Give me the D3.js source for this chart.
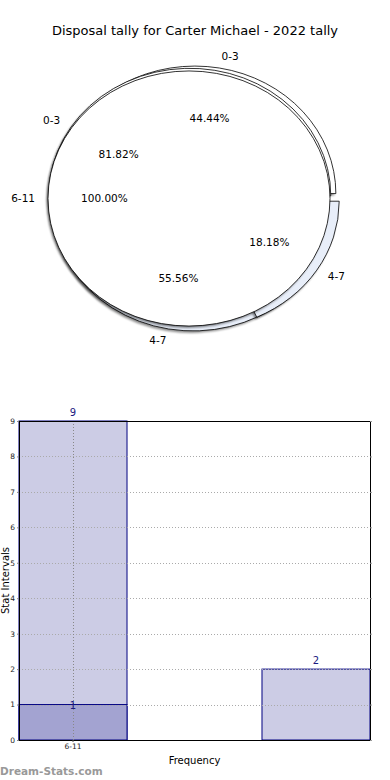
<!DOCTYPE html>
<html>
<head>
<meta charset="utf-8">
<script src="https://cdn.jsdelivr.net/npm/d3@7/dist/d3.min.js"></script>
<style>
  html, body { margin: 0; padding: 0; background: #fff; }
  svg { display: block; font-family: "DejaVu Sans", sans-serif; }
</style>
</head>
<body>
<div id="chart"></div>
<script>
// chart title
const chartTitle = "Disposal tally for Carter Michael - 2022 tally";

// pie rings (drawn back to front)
const pie1Labels = ["0-3", "4-7"];
const pie1Values = [4, 5];
const pie2Labels = ["0-3", "4-7"];
const pie2Values = [9, 2];
const pie3Labels = ["6-11"];
const pie3Values = [9];

// bar chart
const barCategories = ["6-11", "", ""];
const barValues = [9, 0, 2];
const barInnerValues = [1, 0, 0];
const yTicks = [0, 1, 2, 3, 4, 5, 6, 7, 8, 9];
const xTitle = "Frequency";
const yTitle = "Stat Intervals";
const watermark = "Dream-Stats.com";

const W = 390, H = 780;
const svg = d3.select("#chart").append("svg")
    .attr("width", W)
    .attr("height", H);

const defs = svg.append("defs");
defs.append("filter").attr("id", "blur")
    .attr("x", "-10%").attr("y", "-10%").attr("width", "120%").attr("height", "120%")
  .append("feGaussianBlur").attr("stdDeviation", 0.9);

svg.append("text")
    .attr("x", W / 2)
    .attr("y", 34.5)
    .attr("text-anchor", "middle")
    .attr("font-size", 13)
    .attr("fill", "#000")
    .text(chartTitle);

// ---------- pie ----------
const cx = 194, cy = 198.5;
const rx = 141, ry = 127.5;
const yScaleK = ry / rx;
const explode = 5;
const sliceColor = {"0-3": "#ffffff", "4-7": "#e8eef9", "6-11": "#ffffff"};

const pie = d3.pie().sort(null)
    .startAngle(Math.PI / 2)
    .endAngle(Math.PI / 2 - 2 * Math.PI);
const arc = d3.arc().innerRadius(0).outerRadius(rx);

const pieG = svg.append("g");
const labelG = svg.append("g");

function drawPie(values, labels) {
  const total = d3.sum(values);
  const arcs = pie(values).map((d, i) => {
    const mid = (d.startAngle + d.endAngle) / 2;
    return Object.assign(d, {
      label: labels[i],
      mid: mid,
      ox: Math.sin(mid) * explode,
      oy: -Math.cos(mid) * explode,
      pct: (d.value / total * 100).toFixed(2) + "%"
    });
  });

  // shadows
  arcs.forEach(d => {
    pieG.append("g")
        .attr("transform", `translate(${cx + d.ox - 1.5},${cy + d.oy + 2})`)
      .append("path")
        .attr("transform", `scale(1,${yScaleK})`)
        .attr("d", arc(d))
        .attr("fill", "#000")
        .attr("opacity", 0.45)
        .attr("filter", "url(#blur)");
  });

  arcs.forEach(d => {
    pieG.append("g")
        .attr("transform", `translate(${cx + d.ox},${cy + d.oy}) scale(1,${yScaleK})`)
      .append("path")
        .attr("d", arc(d))
        .attr("fill", sliceColor[d.label])
        .attr("stroke", "#000")
        .attr("stroke-width", 0.8)
        .attr("vector-effect", "non-scaling-stroke");

    const s = Math.sin(d.mid), c = -Math.cos(d.mid);
    labelG.append("text")
        .attr("x", cx + d.ox + s * rx * 0.6)
        .attr("y", cy + d.oy + c * ry * 0.6)
        .attr("dy", "0.35em")
        .attr("text-anchor", "middle")
        .attr("font-size", 10.5)
        .text(d.pct);

    labelG.append("text")
        .attr("x", cx + d.ox + s * (rx + 13))
        .attr("y", cy + d.oy + c * (ry + 12))
        .attr("dy", "0.35em")
        .attr("text-anchor", s > 0.05 ? "start" : (s < -0.05 ? "end" : "middle"))
        .attr("font-size", 10.5)
        .text(d.label);
  });
}

drawPie(pie1Values, pie1Labels);
drawPie(pie2Values, pie2Labels);
drawPie(pie3Values, pie3Labels);

// ---------- bars ----------
const plot = {left: 19, right: 370, top: 421, bottom: 740};

const x = d3.scaleBand()
    .domain(d3.range(barCategories.length))
    .range([plot.left, plot.right])
    .paddingInner(0.111)
    .paddingOuter(0);

const y = d3.scaleLinear()
    .domain([0, 9])
    .range([plot.bottom, plot.top]);

const barG = svg.append("g");

barG.selectAll("rect.outer")
  .data(barValues.map((v, i) => ({v, i})).filter(d => d.v > 0))
  .enter().append("rect")
    .attr("class", "outer")
    .attr("x", d => x(d.i))
    .attr("y", d => y(d.v))
    .attr("width", x.bandwidth())
    .attr("height", d => y(0) - y(d.v))
    .attr("fill", "#ccccE5")
    .attr("stroke", "#000080")
    .attr("stroke-width", 1);

barG.selectAll("rect.inner")
  .data(barInnerValues.map((v, i) => ({v, i})).filter(d => d.v > 0))
  .enter().append("rect")
    .attr("class", "inner")
    .attr("x", d => x(d.i))
    .attr("y", d => y(d.v))
    .attr("width", x.bandwidth())
    .attr("height", d => y(0) - y(d.v))
    .attr("fill", "#a3a3d1")
    .attr("stroke", "#000080")
    .attr("stroke-width", 1);

// grid lines
const gridG = svg.append("g");
gridG.selectAll("line.h")
  .data(yTicks.filter(t => t > 0 && t < 9))
  .enter().append("line")
    .attr("x1", plot.left)
    .attr("x2", plot.right)
    .attr("y1", d => Math.round(y(d)) + 0.5)
    .attr("y2", d => Math.round(y(d)) + 0.5)
    .attr("stroke", "#aaa")
    .attr("stroke-width", 1)
    .attr("stroke-dasharray", "1,2");

barCategories.forEach((c, i) => {
  if (!c) return;
  const xc = Math.round(x(i) + x.bandwidth() / 2) + 0.5;
  gridG.append("line")
      .attr("x1", xc).attr("x2", xc)
      .attr("y1", plot.top).attr("y2", plot.bottom)
      .attr("stroke", "#888")
      .attr("stroke-width", 1)
      .attr("stroke-dasharray", "1,2");
});

// frame
svg.append("rect")
    .attr("x", plot.left + 0.5)
    .attr("y", plot.top + 0.5)
    .attr("width", plot.right - plot.left)
    .attr("height", plot.bottom - plot.top)
    .attr("fill", "none")
    .attr("stroke", "#000")
    .attr("stroke-width", 1);

// axes
const yAxis = svg.append("g")
    .attr("transform", `translate(${plot.left},0)`)
    .call(d3.axisLeft(y).tickValues(yTicks).tickSize(2).tickPadding(2));
yAxis.select(".domain").remove();
yAxis.selectAll(".tick line").attr("stroke", "#888");
yAxis.selectAll(".tick text")
    .attr("font-size", 7.5)
    .attr("font-family", "DejaVu Sans, sans-serif")
    .attr("fill", "#222");

const yAxisR = svg.append("g")
    .attr("transform", `translate(${plot.right},0)`)
    .call(d3.axisRight(y).tickValues(yTicks).tickSize(2).tickFormat(""));
yAxisR.select(".domain").remove();
yAxisR.selectAll(".tick line").attr("stroke", "#999");

const xAxis = svg.append("g")
    .attr("transform", `translate(0,${plot.bottom})`)
    .call(d3.axisBottom(x).tickFormat(i => barCategories[i]).tickSize(2).tickPadding(2));
xAxis.select(".domain").remove();
xAxis.selectAll(".tick").filter(i => !barCategories[i]).remove();
xAxis.selectAll(".tick line").attr("stroke", "#555");
xAxis.selectAll(".tick text")
    .attr("font-size", 7.5)
    .attr("font-family", "DejaVu Sans, sans-serif")
    .attr("fill", "#222");

// value labels
barValues.forEach((v, i) => {
  if (v <= 0) return;
  svg.append("text")
      .attr("x", x(i) + x.bandwidth() / 2)
      .attr("y", y(v) - 5)
      .attr("text-anchor", "middle")
      .attr("font-size", 10)
      .attr("fill", "#1a1a80")
      .text(v);
});
barInnerValues.forEach((v, i) => {
  if (v <= 0) return;
  svg.append("text")
      .attr("x", x(i) + x.bandwidth() / 2)
      .attr("y", y(v) + 4)
      .attr("text-anchor", "middle")
      .attr("font-size", 10)
      .attr("fill", "#1a1a80")
      .text(v);
});

// axis titles
svg.append("text")
    .attr("x", (plot.left + plot.right) / 2)
    .attr("y", 764)
    .attr("text-anchor", "middle")
    .attr("font-size", 10)
    .text(xTitle);

svg.append("text")
    .attr("transform", `translate(9,${(plot.top + plot.bottom) / 2}) rotate(-90)`)
    .attr("text-anchor", "middle")
    .attr("font-size", 10)
    .text(yTitle);

svg.append("text")
    .attr("x", 0)
    .attr("y", 775)
    .attr("font-size", 10.5)
    .attr("font-weight", "bold")
    .attr("fill", "#999")
    .text(watermark);
</script>
</body>
</html>
